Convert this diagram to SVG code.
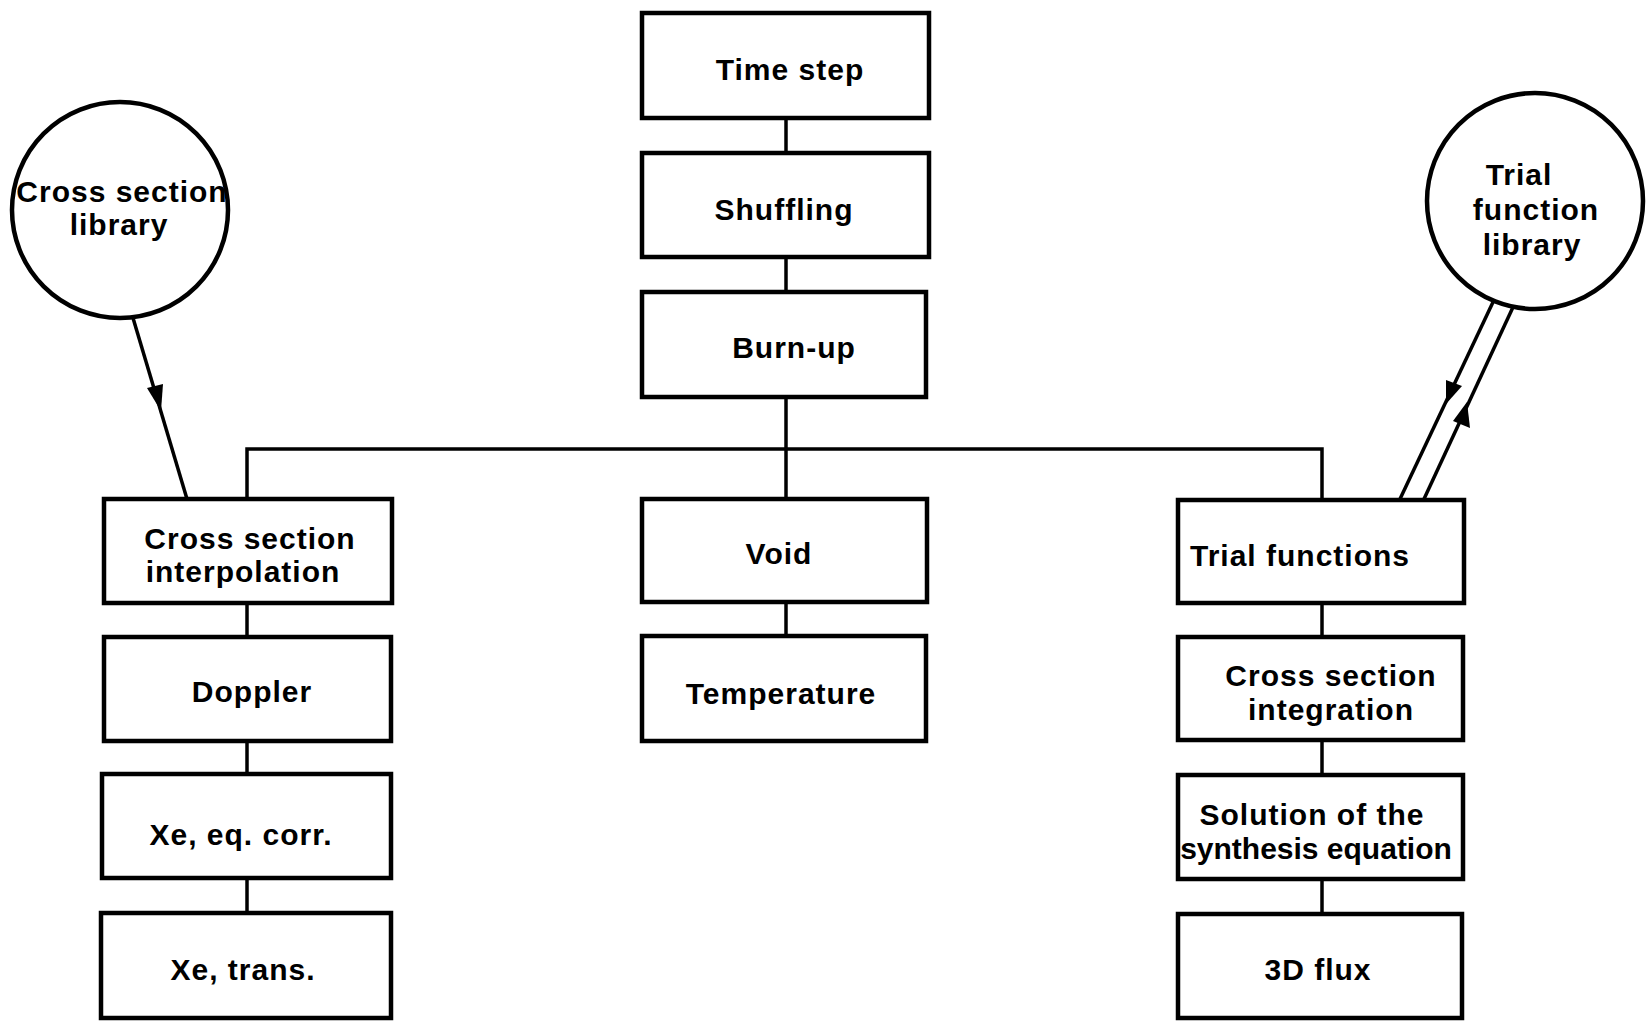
<svg xmlns="http://www.w3.org/2000/svg" width="1647" height="1021" viewBox="0 0 1647 1021">
<defs>
<style>
.box{fill:#fff;stroke:#000;stroke-width:4.5}
.lib{fill:#fff;stroke:#000;stroke-width:4.5}
.ln{stroke:#000;stroke-width:3.5;fill:none}
text{font-family:"Liberation Sans",Arial,sans-serif;font-weight:bold;font-size:30px;letter-spacing:1px;fill:#000;text-anchor:middle}
</style>
</defs>
<rect width="1647" height="1021" fill="#fff"/>
<g id="connectors">
<line class="ln" x1="786" y1="118" x2="786" y2="153"/>
<line class="ln" x1="786" y1="257" x2="786" y2="292"/>
<line class="ln" x1="786" y1="397" x2="786" y2="499"/>
<polyline class="ln" points="247,499 247,449 1322,449 1322,500"/>
<line class="ln" x1="786" y1="602" x2="786" y2="636"/>
<line class="ln" x1="247" y1="603" x2="247" y2="637"/>
<line class="ln" x1="247" y1="741" x2="247" y2="774"/>
<line class="ln" x1="247" y1="878" x2="247" y2="913"/>
<line class="ln" x1="1322" y1="603" x2="1322" y2="637"/>
<line class="ln" x1="1322" y1="740" x2="1322" y2="775"/>
<line class="ln" x1="1322" y1="879" x2="1322" y2="914"/>
<line class="ln" x1="133" y1="318" x2="187" y2="499"/>
<polygon points="147,388 163,384 161,411" fill="#000"/>
<line class="ln" x1="1494" y1="300" x2="1400" y2="499"/>
<line class="ln" x1="1514" y1="305" x2="1424" y2="499"/>
<polygon points="1446,380 1462,386 1446,404" fill="#000"/>
<polygon points="1467,402 1470,428 1453,421" fill="#000"/>
</g>
<g id="cs-library"><circle class="lib" cx="120" cy="210" r="108"/><text x="122" y="202">Cross section</text><text x="119" y="235">library</text></g>
<g id="tf-library"><circle class="lib" cx="1535" cy="201" r="108"/><text x="1519" y="185">Trial</text><text x="1536" y="220">function</text><text x="1532" y="255">library</text></g>
<g id="time-step"><rect class="box" x="642" y="13" width="287" height="105"/><text x="790" y="80">Time step</text></g>
<g id="shuffling"><rect class="box" x="642" y="153" width="287" height="104"/><text x="784" y="220">Shuffling</text></g>
<g id="burn-up"><rect class="box" x="642" y="292" width="284" height="105"/><text x="794" y="358">Burn-up</text></g>
<g id="cs-interp"><rect class="box" x="104" y="499" width="288" height="104"/><text x="250" y="549">Cross section</text><text x="243" y="582">interpolation</text></g>
<g id="doppler"><rect class="box" x="104" y="637" width="287" height="104"/><text x="252" y="702">Doppler</text></g>
<g id="xe-eq"><rect class="box" x="102" y="774" width="289" height="104"/><text x="241" y="845">Xe, eq. corr.</text></g>
<g id="xe-trans"><rect class="box" x="101" y="913" width="290" height="105"/><text x="243" y="980">Xe, trans.</text></g>
<g id="void"><rect class="box" x="642" y="499" width="285" height="103"/><text x="779" y="564">Void</text></g>
<g id="temperature"><rect class="box" x="642" y="636" width="284" height="105"/><text x="781" y="704">Temperature</text></g>
<g id="trial-functions"><rect class="box" x="1178" y="500" width="286" height="103"/><text x="1300" y="566">Trial functions</text></g>
<g id="cs-integration"><rect class="box" x="1178" y="637" width="285" height="103"/><text x="1331" y="686">Cross section</text><text x="1331" y="720">integration</text></g>
<g id="synthesis"><rect class="box" x="1178" y="775" width="285" height="104"/><text x="1312" y="825">Solution of the</text><text x="1316" y="859" style="letter-spacing:0">synthesis equation</text></g>
<g id="flux"><rect class="box" x="1178" y="914" width="284" height="104"/><text x="1318" y="980">3D flux</text></g>
</svg>
